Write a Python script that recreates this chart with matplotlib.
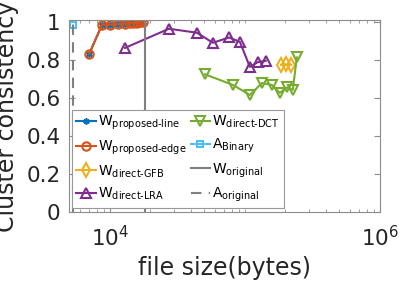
import matplotlib
matplotlib.use("Agg")
import matplotlib.pyplot as plt
import matplotlib.ticker as mticker
import numpy as np

plt.rcParams['font.family'] = ['DejaVu Sans']
plt.rcParams['mathtext.fontset'] = 'dejavusans'

# data
edge_x = [7060, 8770, 10050, 11520, 12970, 14130, 14870, 15920, 16750, 17620]
edge_y = [0.834, 0.987, 0.988, 0.99, 0.993, 0.995, 0.997, 0.998, 0.999, 1.0]
line_x = edge_x
line_y = edge_y
gfb_x = [185000, 203000, 221000]
gfb_y = [0.776, 0.778, 0.776]
lra_x = [12980, 27480, 44300, 58100, 76300, 92000, 109000, 125000, 143000]
lra_y = [0.865, 0.966, 0.945, 0.892, 0.92, 0.897, 0.765, 0.79, 0.797]
dct_x = [50700, 81700, 109000, 134000, 158600, 181800, 204900, 226800, 242800]
dct_y = [0.726, 0.67, 0.617, 0.68, 0.67, 0.628, 0.657, 0.644, 0.815]
binary_x = [5390]
binary_y = [0.985]
w_original = 18200
a_original = 5390

blue = '#0072BD'
orange = '#D95319'
yellow = '#EDB120'
purple = '#7E2F8E'
green = '#77AC30'
cyan = '#4DBEEE'
gray = '#808080'

fig = plt.figure(figsize=(3.99, 2.82), dpi=100)
ax = fig.add_axes([0.173, 0.248, 0.779, 0.681])

ax.plot(line_x, line_y, color=blue, lw=1.5, marker=(6, 2, 0), ms=4.5, mew=1.2,
        label=r'W$_{\text{proposed-line}}$')
ax.plot(edge_x, edge_y, color=orange, lw=1.5, marker='o', ms=6, mew=1.5,
        mfc='none', label=r'W$_{\text{proposed-edge}}$')
ax.plot(gfb_x, gfb_y, color=yellow, lw=1.5, marker='d', ms=7, mew=1.5,
        mfc='none', label=r'W$_{\text{direct-GFB}}$')
ax.plot(lra_x, lra_y, color=purple, lw=1.5, marker='^', ms=7.5, mew=1.5,
        mfc='none', label=r'W$_{\text{direct-LRA}}$')
ax.plot(dct_x, dct_y, color=green, lw=1.5, marker='v', ms=7.5, mew=1.5,
        mfc='none', label=r'W$_{\text{direct-DCT}}$')
ax.plot(binary_x, binary_y, color=cyan, lw=1.5, marker='s', ms=5, mew=1.5,
        mfc='none', label=r'A$_{\text{Binary}}$')
ax.axvline(w_original, color=gray, lw=1.5, label=r'W$_{\text{original}}$')
ax.axvline(a_original, color=gray, lw=1.5, ls=(0, (5, 3.5)),
           label=r'A$_{\text{original}}$')

ax.set_xscale('log')
ax.set_xlim(5000, 1e6)
ax.set_ylim(0, 1.012)
ax.xaxis.set_major_locator(mticker.FixedLocator([1e4, 1e6]))
ax.xaxis.set_minor_locator(mticker.LogLocator(base=10, subs=np.arange(1, 10), numticks=20))
ax.xaxis.set_minor_formatter(mticker.NullFormatter())
ax.set_yticks([0, 0.2, 0.4, 0.6, 0.8, 1.0])
ax.set_yticklabels(['0', '0.2', '0.4', '0.6', '0.8', '1'])

for s in ax.spines.values():
    s.set_color('0.55')
    s.set_linewidth(0.8)
ax.tick_params(which='both', direction='in', top=True, right=True,
               color='0.55', labelcolor='0.15', labelsize=15.5)
ax.tick_params(which='major', length=4, width=0.8)
ax.tick_params(which='minor', length=2, width=0.6)
ax.tick_params(axis='y', pad=6)
ax.tick_params(axis='x', pad=9)

ax.set_xlabel('file size(bytes)', fontsize=17, color='0.15')
ax.set_ylabel('Cluster consistency', fontsize=17, color='0.15')
ax.yaxis.set_label_coords(-0.16, 0.5)
ax.xaxis.set_label_coords(0.5, -0.23)

leg = ax.legend(ncol=2, loc='lower left', bbox_to_anchor=(0.01, 0.02),
                borderaxespad=0, fontsize=10, handlelength=1.4,
                handletextpad=0.15, columnspacing=0.3, labelspacing=0.45,
                borderpad=0.3, fancybox=False, framealpha=1)
leg.get_frame().set_edgecolor('0.6')
leg.get_frame().set_linewidth(0.8)

fig.savefig('out.png', dpi=100)
